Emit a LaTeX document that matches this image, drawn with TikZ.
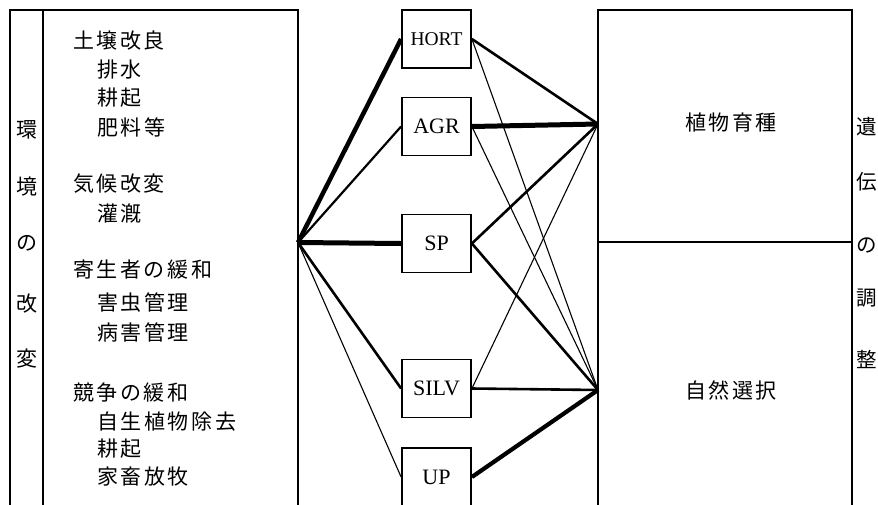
\documentclass[tikz,border=0pt]{standalone}
\usepackage{fontspec}
\setmainfont{Noto Sans CJK JP}
\newfontfamily\lat{Liberation Serif}
\newcommand\spaced[1]{\spacedA#1\relax\unskip}
\def\spacedA#1{\ifx\relax#1\else#1\hskip2.6pt\expandafter\spacedA\fi}
\begin{document}
\begin{tikzpicture}[x=1pt,y=-1pt,
  frame/.style={line width=2.2pt},
  midbox/.style={draw,line width=1.8pt,minimum width=69pt,minimum height=58pt,inner sep=0pt,font=\lat\fontsize{22}{22}\selectfont},
  jtext/.style={inner sep=0pt,anchor=west,font=\fontsize{21}{21}\selectfont},
  ctext/.style={inner sep=0pt,font=\fontsize{21}{21}\selectfont},
  rtext/.style={inner sep=0pt,anchor=east,font=\fontsize{20.5}{20.5}\selectfont},
  vthick/.style={line width=4.5pt},
  medline/.style={line width=2.6pt},
  thinline/.style={line width=1.1pt}]
\useasboundingbox (0,0) rectangle (878,504);
% frames
\draw[frame] (10,520) -- (10,10) -- (298,10) -- (298,520);
\draw[frame] (43,10) -- (43,520);
\draw[frame] (598,520) -- (598,10) -- (852,10) -- (852,520);
\draw[frame] (598,242) -- (852,242);
% convergence points
\coordinate (L) at (298,242.5);
\coordinate (P) at (598,124);
\coordinate (N) at (598,390);
% middle boxes
\node[midbox] (hort) at (436.5,39) {\fontsize{19.5}{19.5}\selectfont HORT};
\node[midbox] (agr) at (436.5,126.5) {AGR};
\node[midbox] (sp) at (436.5,243.5) {SP};
\node[midbox] (silv) at (436.5,388.5) {SILV};
\node[midbox] (up) at (436.5,477) {UP};
% connectors
\draw[vthick] (L) -- (hort.west);
\draw[medline,line width=2.2pt] (L) -- (agr.west);
\draw[vthick,line width=5pt] (L) -- (sp.west);
\draw[medline] (L) -- (silv.west);
\draw[thinline] (L) -- (up.west);
\draw[medline] (hort.east) -- (P);
\draw[thinline] (hort.east) -- (N);
\draw[vthick,line width=5pt] (agr.east) -- (P);
\draw[thinline] (agr.east) -- (N);
\draw[medline] (sp.east) -- (P);
\draw[medline] (sp.east) -- (N);
\draw[thinline] (silv.east) -- (P);
\draw[medline] (silv.east) -- (N);
\draw[vthick,line width=4.2pt] (up.east) -- (N);
% left list
\node[jtext] (t1) at (73,41) {\spaced{土壌改良}};
\node[jtext] (t2) at (97,70) {\spaced{排水}};
\node[jtext] (t3) at (97,98) {\spaced{耕起}};
\node[jtext] (t4) at (97,127) {\spaced{肥料等}};
\node[jtext] (t5) at (73,184) {\spaced{気候改変}};
\node[jtext] (t6) at (97,213) {\spaced{灌漑}};
\node[jtext] (t7) at (73,270) {\spaced{寄生者の緩和}};
\node[jtext] (t8) at (97,303) {\spaced{害虫管理}};
\node[jtext] (t9) at (97,332) {\spaced{病害管理}};
\node[jtext] (t10) at (73,393) {\spaced{競争の緩和}};
\node[jtext] (t11) at (97,422) {\spaced{自生植物除去}};
\node[jtext] (t12) at (97,449) {\spaced{耕起}};
\node[jtext] (t13) at (97,477) {\spaced{家畜放牧}};
% left vertical label
\node[ctext] (v1) at (27,130) {環};
\node[ctext] (v2) at (27,187) {境};
\node[ctext] (v3) at (27,243) {の};
\node[ctext] (v4) at (27,304) {改};
\node[ctext] (v5) at (27,359) {変};
% right boxes text
\node[ctext] (pb) at (731,123) {\spaced{植物育種}};
\node[ctext] (ns) at (731,390) {\spaced{自然選択}};
% right vertical label
\node[rtext] (r1) at (877.5,127) {遺};
\node[rtext] (r2) at (877.5,182) {伝};
\node[rtext] (r3) at (877.5,245) {の};
\node[rtext] (r4) at (877.5,298) {調};
\node[rtext] (r5) at (877.5,359) {整};
\end{tikzpicture}
\end{document}
